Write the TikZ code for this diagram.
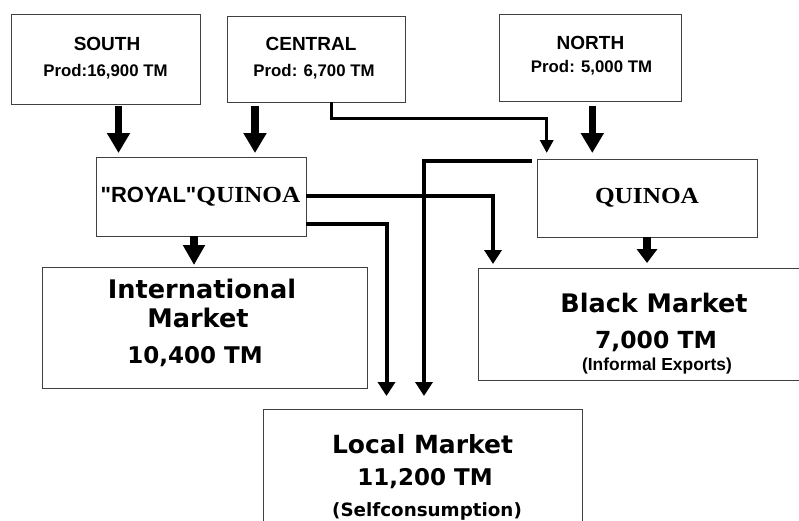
\documentclass[tikz,border=0pt]{standalone}
\usepackage{fontspec}
\usepackage{graphicx}
\usetikzlibrary{arrows.meta}
\newfontfamily\fa{Liberation Sans}[Ligatures=TeXOff]
\newfontfamily\fs{Liberation Serif}[Ligatures=TeXOff]
\newfontfamily\fd{DejaVu Sans}[Ligatures=TeXOff]
\newcommand\fsz[1]{\fontsize{#1}{#1}\selectfont}
\begin{document}
\begin{tikzpicture}[x=1pt,y=-1pt,
  box/.style={draw=black!75, line width=1pt, anchor=north west, inner sep=0pt, outer sep=0pt},
  txt/.style={inner sep=0pt, anchor=base},
  big/.style={line width=7.5pt, -{Triangle[width=22pt,length=20pt]}},
  mid/.style={line width=4pt, line join=miter, -{Triangle[width=17pt,length=14pt]}},
  thinar/.style={line width=3.5pt, line join=miter, -{Triangle[width=13pt,length=13pt]}}]
\useasboundingbox (0,0) rectangle (799,520);
\clip (0,0) rectangle (799,520);
% boxes
\node[box, minimum width=189pt, minimum height=90pt] (south) at (11,14) {};
\node[box, minimum width=178pt, minimum height=86pt] (central) at (227,16) {};
\node[box, minimum width=182pt, minimum height=87pt] (north) at (499,14) {};
\node[box, minimum width=210pt, minimum height=79pt] (royal) at (96,157) {};
\node[box, minimum width=220pt, minimum height=78pt] (quinoa) at (537,159) {};
\node[box, minimum width=325pt, minimum height=121pt] (intl) at (42,267) {};
\node[box, minimum width=362pt, minimum height=112pt] (black) at (478,268) {};
\node[box, minimum width=319pt, minimum height=130pt] (local) at (263,409) {};
% texts
\node[txt] (tS) at (107,50) {\fa\bfseries\fsz{19}SOUTH};
\node[txt] (tSp) at (105.5,76) {\fa\bfseries\fsz{16.8}Prod:16,900 TM};
\node[txt] (tC) at (311,50) {\fa\bfseries\fsz{19}CENTRAL};
\node[txt] (tCp) at (314,76) {\fa\bfseries\fsz{16.8}Prod: 6,700 TM};
\node[txt] (tN) at (590.5,49) {\fa\bfseries\fsz{19}NORTH};
\node[txt] (tNp) at (591.5,72) {\fa\bfseries\fsz{16.8}Prod: 5,000 TM};
\node[txt] (tR) at (200.5,202) {{\fa\bfseries\fsz{22}"ROYAL"}\scalebox{1.1}[1]{\fs\bfseries\fsz{23}QUINOA}};
\node[txt] (tQ) at (647,203) {\scalebox{1.1}[1]{\fs\bfseries\fsz{23}QUINOA}};
\node[txt] (tI1) at (202,298) {\fd\bfseries\fsz{25.6}International};
\node[txt] (tI2) at (198,327) {\fd\bfseries\fsz{25.6}Market};
\node[txt] (tI3) at (195,363) {\fd\bfseries\fsz{23}10,400 TM};
\node[txt] (tB1) at (654,312) {\fd\bfseries\fsz{25.5}Black Market};
\node[txt] (tB2) at (656,348) {\fd\bfseries\fsz{23.5}7,000 TM};
\node[txt] (tB3) at (657,370) {\fa\bfseries\fsz{17.4}(Informal Exports)};
\node[txt] (tL1) at (422.5,453) {\fd\bfseries\fsz{25}Local Market};
\node[txt] (tL2) at (425,485) {\fd\bfseries\fsz{23}11,200 TM};
\node[txt] (tL3) at (427,516) {\fd\bfseries\fsz{18.3}(Selfconsumption)};
% connectors
\draw[big, shorten <=2pt, shorten >=4pt] (118.5,0 |- south.south) -- (118.5,0 |- royal.north);
\draw[big, shorten <=4pt, shorten >=4pt] (255,0 |- central.south) -- (255,0 |- royal.north);
\draw[big, shorten <=5pt, shorten >=6pt] (592.3,0 |- north.south) -- (592.3,0 |- quinoa.north);
\draw[thinar, shorten >=6pt] (331.7,0 |- central.south) |- (546.7,118.3) -- (546.7,0 |- quinoa.north);
\draw[big, -{Triangle[width=21pt,length=20pt]}, shorten >=2pt] (194,0 |- royal.south) -- (194,0 |- intl.north);
\draw[big, -{Triangle[width=20pt,length=14pt]}, shorten >=5pt] (647,0 |- quinoa.south) -- (647,0 |- black.north);
\draw[mid, shorten >=4pt] (royal.east |- 0,196) -| (493,0 |- black.north);
\draw[mid, shorten >=13pt] (royal.east |- 0,224) -| (386.5,0 |- local.north);
\draw[mid, shorten >=13pt] ([xshift=-5.3pt,yshift=-2.2pt]quinoa.north west) -| (424,0 |- local.north);
\end{tikzpicture}
\end{document}
